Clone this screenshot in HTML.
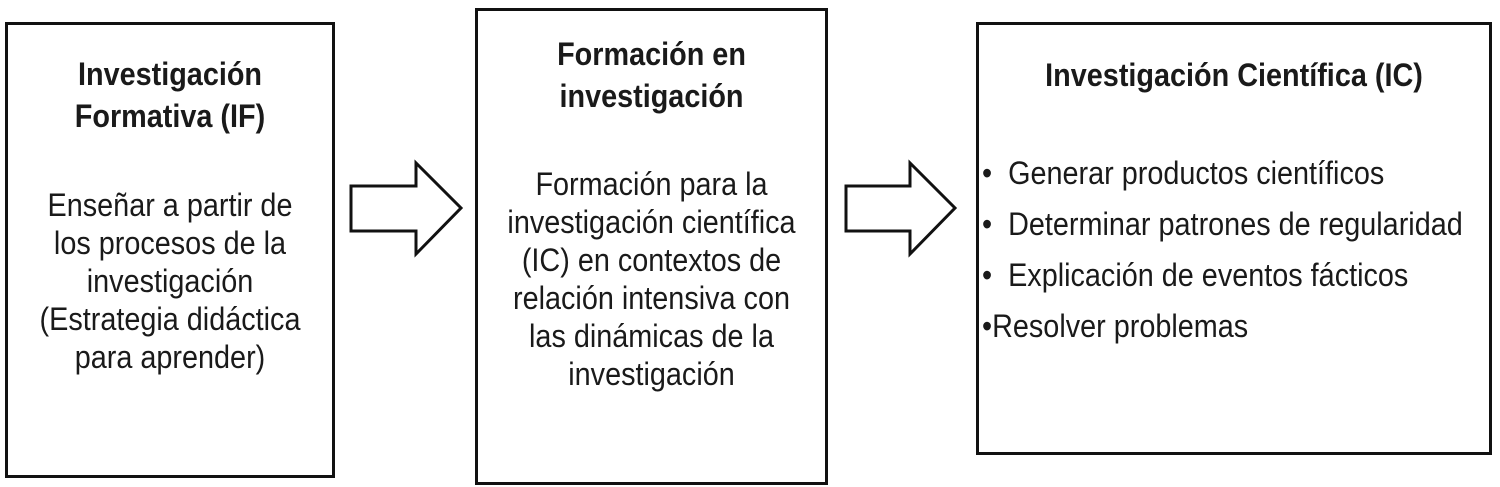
<!DOCTYPE html>
<html><head><meta charset="utf-8"><style>
body{margin:0;width:1500px;height:487px;background:#fff;position:relative;overflow:hidden;font-family:"Liberation Sans",sans-serif;color:#1a1a1a}
.b{position:absolute;border:3px solid #111;box-sizing:border-box}
.t{position:absolute;text-align:center;font-size:32px;line-height:38px;transform:scaleX(0.9);transform-origin:center top}
.h{font-weight:bold;line-height:42px}
.l{position:absolute;left:982px;font-size:32px;line-height:38px;transform:scaleX(0.9);transform-origin:left top;white-space:nowrap}
</style></head><body>
<div class="b" style="left:5px;top:22px;width:330px;height:456px"></div>
<div class="t h" style="left:-20px;width:380px;top:53px;">Investigación<br>Formativa (IF)</div>
<div class="t" style="left:-20px;width:380px;top:186px;">Enseñar a partir de<br>los procesos de la<br>investigación<br>(Estrategia didáctica<br>para aprender)</div>
<div class="b" style="left:475px;top:8px;width:353px;height:477px"></div>
<div class="t h" style="left:450px;width:403px;top:33px;">Formación en<br>investigación</div>
<div class="t" style="left:450px;width:403px;top:165px;">Formación para la<br>investigación científica<br>(IC) en contextos de<br>relación intensiva con<br>las dinámicas de la<br>investigación</div>
<div class="b" style="left:976px;top:22px;width:516px;height:433px"></div>
<div class="t h" style="left:934px;width:600px;top:54px;">Investigación Científica (IC)</div>
<div class="l" style="top:154px">• &nbsp;Generar productos científicos</div>
<div class="l" style="top:205px">• &nbsp;Determinar patrones de regularidad</div>
<div class="l" style="top:256px">• &nbsp;Explicación de eventos fácticos</div>
<div class="l" style="top:307px">•Resolver problemas</div>
<svg width="1500" height="487" style="position:absolute;left:0;top:0">
<polygon points="351,186 416,186 416,163 461,208 416,254 416,231 351,231" fill="#fff" stroke="#111" stroke-width="3"/>
<polygon points="846,186 910,186 910,163 955,208 910,254 910,231 846,231" fill="#fff" stroke="#111" stroke-width="3"/>
</svg>
</body></html>
